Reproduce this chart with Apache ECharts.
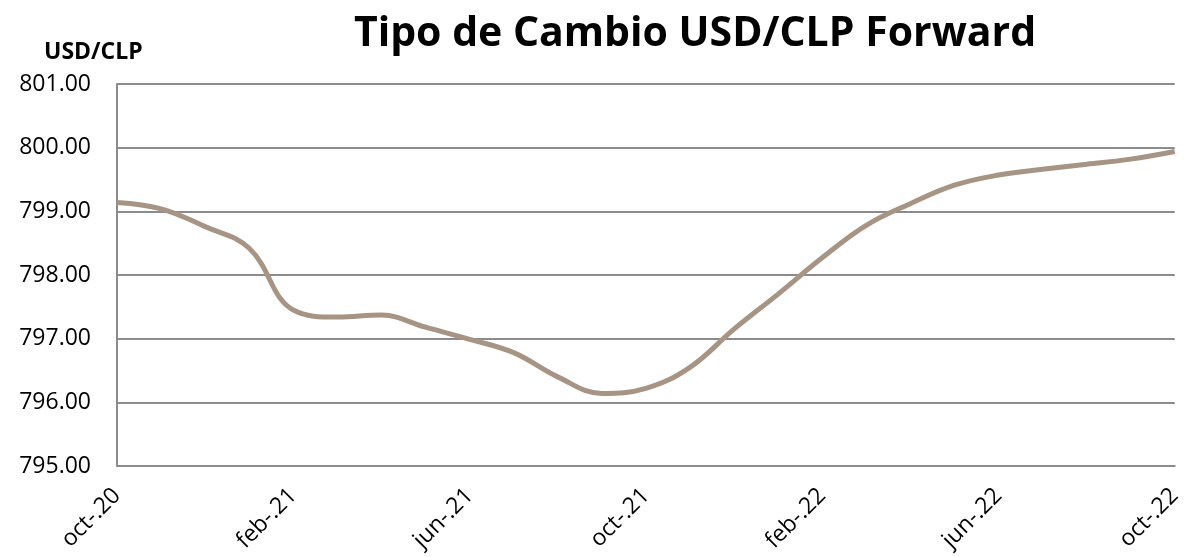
<!DOCTYPE html>
<html>
<head>
<meta charset="utf-8">
<script src="https://cdn.jsdelivr.net/npm/echarts@6/dist/echarts.min.js"></script>
<style>
html, body { margin: 0; padding: 0; background: #fff; }
#main { width: 1185px; height: 557px; }
</style>
</head>
<body>
<div id="main"></div>
<script>
// meses (mensual, oct-20 a oct-22)
var months = ['oct-.20','nov-.20','dic-.20','ene-.21','feb-.21','mar-.21','abr-.21','may-.21','jun-.21','jul-.21','ago-.21','sep-.21',
              'oct-.21','nov-.21','dic-.21','ene-.22','feb-.22','mar-.22','abr-.22','may-.22','jun-.22','jul-.22','ago-.22','sep-.22','oct-.22'];
var fwd = [799.14, 799.04, 798.76, 798.42, 797.45, 797.34, 797.37, 797.18, 796.99, 796.78, 796.40, 796.14,
           796.22, 796.55, 797.15, 797.70, 798.27, 798.78, 799.12, 799.41, 799.57, 799.66, 799.74, 799.82, 799.94];
var yTicks = [795, 796, 797, 798, 799, 800, 801];

var myChart = echarts.init(document.getElementById('main'));

var option = {
    title: [
        {
            text: 'Tipo de Cambio USD/CLP Forward',
            left: 690,
            textAlign: 'center',
            top: 9,
            textStyle: { fontFamily: 'Open Sans', fontWeight: 'bold', fontSize: 41, color: '#000' }
        },
        {
            text: 'USD/CLP',
            left: 39,
            top: 36,
            textStyle: { fontFamily: 'Open Sans', fontWeight: 'bold', fontSize: 23, color: '#000' }
        }
    ],
    grid: {
        left: 117,
        right: 9,
        top: 84,
        bottom: 91
    },
    xAxis: {
        type: 'category',
        boundaryGap: false,
        data: months,
        axisLine: { lineStyle: { color: '#8c8c8c', width: 2 } },
        axisTick: { show: false },
        axisLabel: {
            interval: 3,
            rotate: 45,
            margin: 26,
            fontFamily: 'Open Sans',
            fontSize: 23,
            color: '#000'
        }
    },
    yAxis: {
        type: 'value',
        min: yTicks[0],
        max: yTicks[yTicks.length - 1],
        interval: 1,
        axisLine: { show: true, lineStyle: { color: '#8c8c8c', width: 2 } },
        axisTick: { show: false },
        splitLine: { lineStyle: { color: '#8c8c8c', width: 2 } },
        axisLabel: {
            margin: 26,
            fontFamily: 'Open Sans',
            fontSize: 23,
            color: '#000',
            formatter: function (v) { return v.toFixed(2); }
        }
    },
    series: [
        {
            name: 'Forward',
            type: 'line',
            data: fwd,
            smooth: 0.4,
            symbol: 'none',
            lineStyle: { color: '#a69585', width: 5 }
        }
    ]
};

myChart.setOption(option);
</script>
</body>
</html>
